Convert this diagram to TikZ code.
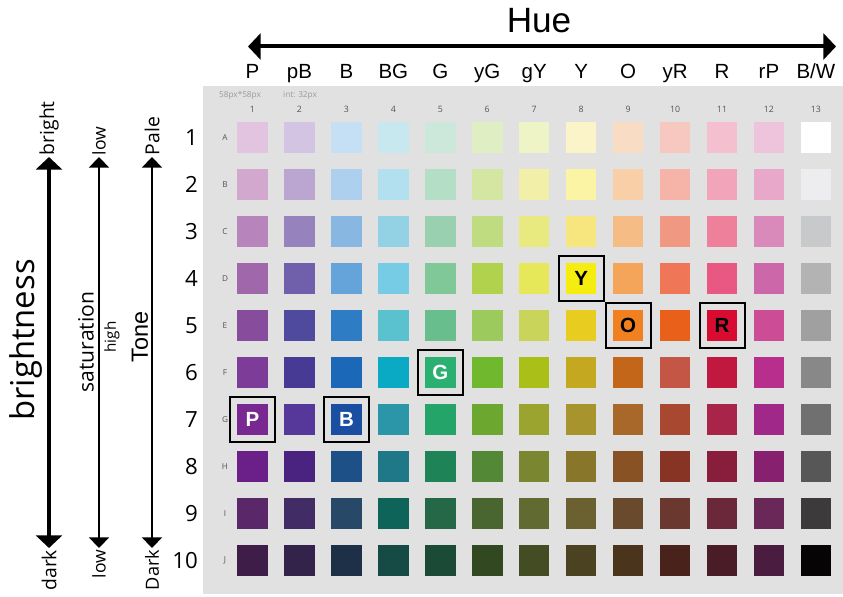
\documentclass[tikz,border=0pt]{standalone}
\usepackage{fontspec}
\setmainfont{Liberation Sans}
\newfontfamily\segoe{Open Sans}
\usetikzlibrary{arrows.meta}
\definecolor{panel}{HTML}{E1E1E1}
\definecolor{tinytext}{HTML}{555555}
\definecolor{notetext}{HTML}{9A9A9A}
\tikzset{
  swatch/.style={minimum size=0.915cm, inner sep=0, draw=none},
  pick/.style={draw=black, line width=0.06cm, minimum size=1.35cm, inner sep=0, font=\bfseries\fontsize{17.5}{20}\selectfont},
  huelbl/.style={anchor=base, inner sep=0, font=\fontsize{17.5}{20}\selectfont},
  colnum/.style={inner sep=0, text=tinytext, font=\segoe\fontsize{7.5}{9}\selectfont},
  rowtag/.style={inner sep=0, text=tinytext, font=\segoe\fontsize{7}{9}\selectfont},
  rownum/.style={anchor=east, inner sep=0, font=\segoe\fontsize{19}{22}\selectfont},
  endlbl/.style={rotate=90, inner sep=0.05cm, font=\segoe\fontsize{16.5}{19}\selectfont},
  bigarr/.style={line width=0.12cm, {Triangle[length=0.38cm,width=0.78cm]}-{Triangle[length=0.38cm,width=0.78cm]}},
  thinarr/.style={line width=0.06cm, {Triangle[length=0.32cm,width=0.6cm]}-{Triangle[length=0.32cm,width=0.6cm]}}
}
\begin{document}
\begin{tikzpicture}[x=0.03cm, y=-0.03cm]
\useasboundingbox (0,0) rectangle (843,597);
\fill[panel] (203,86) rectangle (843,594);
\node[font=\fontsize{30}{36}\selectfont, inner sep=0] (hue) at (539,21) {Hue};
\coordinate (hueL) at (248,46.5);
\coordinate (hueR) at (836,46.5);
\draw[bigarr] (hueL) -- (hueR);
\foreach \h [count=\i] in {P,pB,B,BG,G,yG,gY,Y,O,yR,R,rP,B/W} {
  \node[huelbl] (hue\i) at ({252.5+46.95*(\i-1)},79) {\h};
  \node[colnum] (col\i) at ({252.5+46.95*(\i-1)},109) {\i};
}
\node[anchor=west, inner sep=0, text=notetext, font=\segoe\fontsize{7}{9}\selectfont] (size) at (219,95) {58px*58px};
\node[anchor=west, inner sep=0, text=notetext, font=\segoe\fontsize{7}{9}\selectfont] (gap) at (283,95) {int: 32px};
\foreach \r/\cols [count=\j] in {
  A/{E2C4E0,D3C4E3,C5DFF5,C8E8F0,CBE8DA,E0EEC3,EFF4C6,FAF4C8,F8DCC4,F6C8C0,F4C0CF,EEC4DD,FFFFFF},
  B/{D2A8CE,BAA6D0,ACD0EE,B2E0EE,B4DEC6,D4E6A2,F2F0A8,FAF4A4,F9CFA8,F6B4A8,F2A4BA,E8A8CA,EDEDEF},
  C/{B884BC,9682BC,88B8E2,92D2E4,98D0B0,C0DC80,E8EA80,F7E67E,F6BC86,F09882,EE809C,DA8ABA,C8C9CB},
  D/{A068AA,7060AC,64A4DA,76CCE4,80C898,B0D24C,E6E85A,F5EC10,F5A55A,EF7656,E85882,CC68AA,B3B3B3},
  E/{884C9C,4F4A9E,2E7CC4,5AC2CE,68BE8C,9CCA5C,C8D45A,E8CC20,F08020,E8601A,D80C30,CC4C96,A0A0A0},
  F/{7C3C98,463A94,1C68B8,0AAAC4,2AB070,70B82E,AAC018,C4A820,C4661A,C45646,C0183E,B82E8C,888888},
  G/{782890,56389A,1A4EA0,2A96A8,24A468,6CA830,9AA42E,A8942C,A8682A,A84830,A82448,A02888,707070},
  H/{6A2088,4A2280,1E5088,1E7888,1E8458,538836,7A8630,88762A,885224,883424,881E3C,882070,575757},
  I/{5A2868,412C66,284868,0E6458,246848,4A6630,616A30,6A6030,6A4A2C,6A382E,6A283A,6A2858,3C3A3A},
  J/{3E1E48,33224A,1E3048,164A44,1B4A36,314820,444C24,4A4220,4A341C,4A221C,4A1C28,4A1C40,060404}} {
  \node[rowtag] (tag\r) at (225,{137.7+46.95*(\j-1)}) {\r};
  \node[rownum] (num\j) at (198,{137.7+46.95*(\j-1)}) {\j};
  \foreach \hx [count=\i] in \cols {
    \definecolor{sw}{HTML}{\hx}
    \node[swatch, fill=sw] (\r\i) at ({252.5+46.95*(\i-1)},{137.7+46.95*(\j-1)}) {};
  }
}
\node[pick, text=white] (pickP) at (G1) {P};
\node[pick, text=white] (pickB) at (G3) {B};
\node[pick, text=white] (pickG) at (F5) {G};
\node[pick] (pickY) at (D8) {Y};
\node[pick] (pickO) at (E9) {O};
\node[pick] (pickR) at (E11) {R};
\node[endlbl, anchor=west] (bright) at (49,157) {bright};
\node[endlbl, anchor=east] (dark) at (49,548) {dark};
\draw[bigarr] (bright.west) -- (dark.east);
\node[endlbl, anchor=west, font=\segoe\fontsize{15}{17}\selectfont] (lowtop) at (99,157) {low};
\node[endlbl, anchor=east, font=\segoe\fontsize{15}{17}\selectfont] (lowbot) at (99,548) {low};
\draw[thinarr] (lowtop.west) -- (lowbot.east);
\node[endlbl, anchor=west] (pale) at (152,157) {Pale};
\node[endlbl, anchor=east, font=\segoe\fontsize{15.5}{18}\selectfont] (darktone) at (152,548) {Dark};
\draw[thinarr] (pale.west) -- (darktone.east);
\node[rotate=90, inner sep=0, font=\segoe\fontsize{28}{32}\selectfont] (brightness) at (26,340) {brightness};
\node[rotate=90, inner sep=0, font=\segoe\fontsize{18}{20}\selectfont] (saturation) at (86,342) {saturation};
\node[rotate=90, inner sep=0, font=\segoe\fontsize{13}{15}\selectfont] (high) at (112,337) {high};
\node[rotate=90, inner sep=0, font=\fontsize{20}{24}\selectfont] (tone) at (140,337) {Tone};
\end{tikzpicture}
\end{document}
